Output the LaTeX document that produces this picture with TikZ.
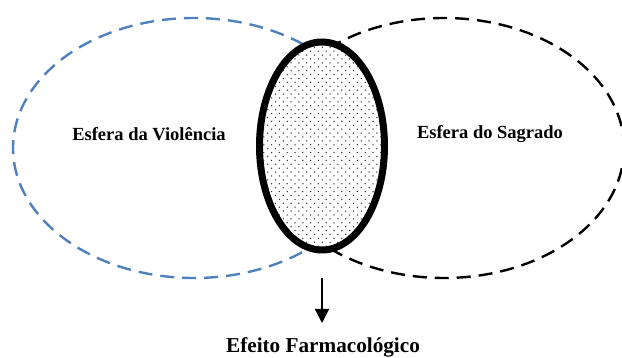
\documentclass[tikz,border=0pt]{standalone}
\usepackage{fontspec}
\setmainfont{Liberation Serif}
\usetikzlibrary{arrows.meta}
\definecolor{sfblue}{RGB}{79,129,189}
\begin{document}
\begin{tikzpicture}[x=1pt,y=1pt,
  lbl/.style={font=\fontsize{18.5}{22}\selectfont\bfseries, inner sep=0pt},
  biglbl/.style={font=\fontsize{21.2}{25}\selectfont\bfseries, inner sep=0pt},
  sphere/.style={line width=2.4pt, dash pattern=on 14pt off 8pt},
  core/.style={line width=7pt},
  arr/.style={line width=1.4pt, -{Triangle[width=14pt,length=14pt]}}]
\useasboundingbox (0,0) rectangle (622,358);
% outer spheres
\draw[sphere, sfblue] (194,210) ellipse [x radius=181pt, y radius=130pt];
\draw[sphere, black] (444,210) ellipse [x radius=180pt, y radius=130pt];
% central overlap
\fill[white] (322,212) ellipse [x radius=62.5pt, y radius=104pt];
\begin{scope}
  \clip (322,212) ellipse [x radius=62.5pt, y radius=104pt];
  \foreach \i in {0,...,56} {
    \foreach \j in {0,...,17} {
      \pgfmathsetmacro{\yy}{104+\i*3.9}
      \pgfmathsetmacro{\xx}{256+\j*7.8+mod(\i,2)*3.9}
      \fill[black!80] (\xx,\yy) circle (0.75pt);
    }
  }
\end{scope}
\draw[core] (322,212) ellipse [x radius=62.5pt, y radius=104pt];
% labels
\node[lbl] (viol) at (149,224) {Esfera da Violência};
\node[lbl] (sagr) at (490,224) {Esfera do Sagrado};
\node[biglbl] (efeito) at (323,11) {Efeito Farmacológico};
% arrow
\coordinate (a1) at (322,80);
\coordinate (a2) at (322,35);
\draw[arr] (a1) -- (a2);
\end{tikzpicture}
\end{document}
